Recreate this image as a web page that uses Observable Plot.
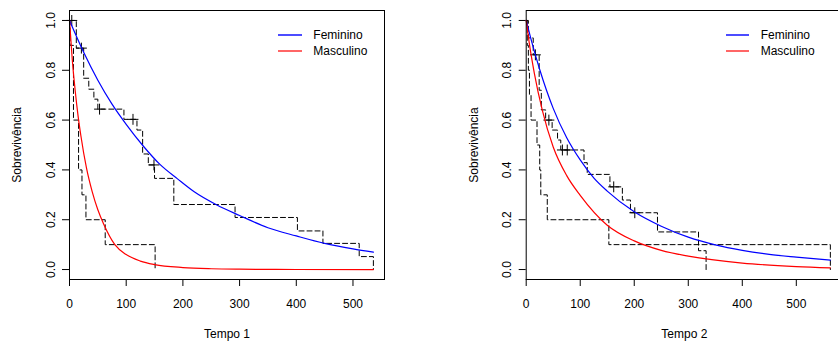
<!DOCTYPE html>
<html><head><meta charset="utf-8">
<script src="https://cdn.jsdelivr.net/npm/d3@7"></script>
<script src="https://cdn.jsdelivr.net/npm/@observablehq/plot@0.6"></script>
<style>
html,body{margin:0;padding:0;background:#fff;overflow:hidden}
#wrap{position:relative;width:838px;height:343px;overflow:hidden;font-family:"Liberation Sans",Arial,sans-serif}
.panel{position:absolute;top:0}
.legend{position:absolute;font-size:12px;color:#000}
.legend .row{position:relative;height:15.7px}
.legend .sw{position:absolute;left:0;top:6px;width:23.4px;height:2px;display:block}
.legend .lb{position:absolute;left:35px;top:0;line-height:15px;white-space:nowrap}
</style></head><body><div id="wrap"></div>
<script>
// ---- tick values and labels ----
const xTicks = [0, 100, 200, 300, 400, 500];
const yTicks = [0, 0.2, 0.4, 0.6, 0.8, 1.0];
const seriesNames = ["Feminino", "Masculino"];
const xLabels = ["Tempo 1", "Tempo 2"];
const yLabel = "Sobrevivência";

// ---- Panel 1 (Tempo 1) ----
// Kaplan-Meier, Feminino
const km1FemT = [0, 12, 25, 34, 43, 50, 96, 119, 129, 139, 150, 184, 292, 402, 447, 511, 536];
const km1FemS = [1, 0.889, 0.768, 0.724, 0.684, 0.644, 0.603, 0.560, 0.464, 0.420, 0.366, 0.261, 0.209, 0.155, 0.105, 0.052, 0];
// censored, Feminino
const cens1T = [4, 21, 53, 112, 149];
const cens1S = [1.0, 0.889, 0.644, 0.603, 0.420];
// Kaplan-Meier, Masculino
const km1MasT = [0, 1, 7, 16, 22, 29, 63, 151];
const km1MasS = [1, 0.9, 0.6, 0.4, 0.3, 0.2, 0.1, 0];
// fitted curves
const fit1FemT = [0, 25, 50, 75, 100, 130, 160, 190, 220, 260, 300, 350, 400, 450, 500, 536];
const fit1FemS = [1, 0.872, 0.760, 0.664, 0.583, 0.496, 0.421, 0.365, 0.312, 0.259, 0.217, 0.168, 0.135, 0.105, 0.083, 0.070];
const fit1MasT = [0, 5, 10, 15, 20, 30, 40, 50, 60, 80, 100, 125, 150, 200, 250, 300, 400, 536];
const fit1MasS = [1, 0.839, 0.719, 0.619, 0.538, 0.407, 0.313, 0.240, 0.184, 0.100, 0.060, 0.034, 0.020, 0.008, 0.0032, 0.0014, 0.0002, 0];

// ---- Panel 2 (Tempo 2) ----
const km2FemT = [0, 4, 13, 24, 28, 36, 48, 58, 64, 107, 113, 155, 178, 193, 243, 319, 333];
const km2FemS = [1, 0.93, 0.862, 0.72, 0.641, 0.60, 0.56, 0.52, 0.48, 0.429, 0.382, 0.332, 0.279, 0.228, 0.151, 0.0755, 0];
const cens2T = [17, 42, 67, 76, 162, 201];
const cens2S = [0.862, 0.6, 0.48, 0.48, 0.332, 0.228];
const km2MasT = [0, 2, 4, 6, 9, 20, 25, 27, 39, 153, 563];
const km2MasS = [1, 0.9, 0.8, 0.7, 0.6, 0.5, 0.4, 0.3, 0.2, 0.1, 0];
const fit2FemT = [0, 10, 25, 50, 75, 100, 125, 150, 200, 250, 300, 350, 400, 450, 500, 563];
const fit2FemS = [1, 0.916, 0.803, 0.647, 0.529, 0.440, 0.368, 0.315, 0.232, 0.174, 0.130, 0.099, 0.077, 0.061, 0.050, 0.038];
const fit2MasT = [0, 5, 15, 30, 50, 75, 100, 150, 200, 250, 300, 400, 500, 563];
const fit2MasS = [1, 0.919, 0.789, 0.638, 0.492, 0.377, 0.298, 0.178, 0.115, 0.077, 0.054, 0.026, 0.012, 0.007];

const rows = (T, S) => T.map((t, i) => ({t, s: S[i]}));

function panel(o) {
  return Plot.plot({
    width: o.width, height: 343,
    marginLeft: o.marginLeft, marginRight: o.marginRight, marginTop: 10, marginBottom: 64,
    style: {fontFamily: "'Liberation Sans', Arial, sans-serif", fontSize: "12px", background: "transparent", overflow: "visible"},
    x: {domain: [0, o.xMax]},
    y: {domain: [-0.04, 1.04]},
    marks: [
      Plot.axisX(xTicks, {tickSize: 7, tickPadding: 12.5, fontSize: 12, label: o.xLabel, labelAnchor: "center", labelOffset: 58, labelArrow: "none"}),
      Plot.axisY(yTicks, {tickSize: 7, tickPadding: 8, tickRotate: -90, tickFormat: d3.format(".1f"), fontSize: 12, label: yLabel, labelAnchor: "center", labelOffset: 57, labelArrow: "none"}),
      Plot.line(rows(o.kmFT, o.kmFS), {x: "t", y: "s", curve: "step-after", stroke: "black", strokeWidth: 1, strokeDasharray: "5,3"}),
      Plot.line(rows(o.kmMT, o.kmMS), {x: "t", y: "s", curve: "step-after", stroke: "black", strokeWidth: 1, strokeDasharray: "5,3"}),
      Plot.dot(rows(o.cT, o.cS), {x: "t", y: "s", symbol: "plus", r: 3.6, stroke: "black", strokeWidth: 1}),
      Plot.line(rows(o.fFT, o.fFS), {x: "t", y: "s", curve: "monotone-x", stroke: "#0000ff", strokeWidth: 1.2}),
      Plot.line(rows(o.fMT, o.fMS), {x: "t", y: "s", curve: "monotone-x", stroke: "#ff0000", strokeWidth: 1.2}),
      Plot.frame({stroke: "black", strokeWidth: 1})
    ]
  });
}

const wrap = document.getElementById("wrap");
const p1 = panel({width: 419, marginLeft: 69, marginRight: 35, xMax: 555.6, xLabel: xLabels[0],
  kmFT: km1FemT, kmFS: km1FemS, kmMT: km1MasT, kmMS: km1MasS, cT: cens1T, cS: cens1S,
  fFT: fit1FemT, fFS: fit1FemS, fMT: fit1MasT, fMS: fit1MasS});
const p2 = panel({width: 423, marginLeft: 106.7, marginRight: 0, xMax: 585.5, xLabel: xLabels[1],
  kmFT: km2FemT, kmFS: km2FemS, kmMT: km2MasT, kmMS: km2MasS, cT: cens2T, cS: cens2S,
  fFT: fit2FemT, fFS: fit2FemS, fMT: fit2MasT, fMS: fit2MasS});
p1.classList.add("panel"); p1.style.left = "0px";
p2.classList.add("panel"); p2.style.left = "419px";
wrap.appendChild(p1); wrap.appendChild(p2);

const colors = ["rgba(0,0,255,0.7)", "rgba(255,0,0,0.6)"];
function legend(left, top) {
  const lg = document.createElement("div");
  lg.className = "legend";
  lg.style.left = left + "px"; lg.style.top = top + "px";
  seriesNames.forEach((n, i) => {
    const r = document.createElement("div"); r.className = "row";
    const sw = document.createElement("span"); sw.className = "sw"; sw.style.background = colors[i];
    const lb = document.createElement("span"); lb.className = "lb"; lb.textContent = n;
    r.appendChild(sw); r.appendChild(lb); lg.appendChild(r);
  });
  wrap.appendChild(lg);
}
legend(278.3, 28);
legend(725.7, 28);
</script></body></html>
